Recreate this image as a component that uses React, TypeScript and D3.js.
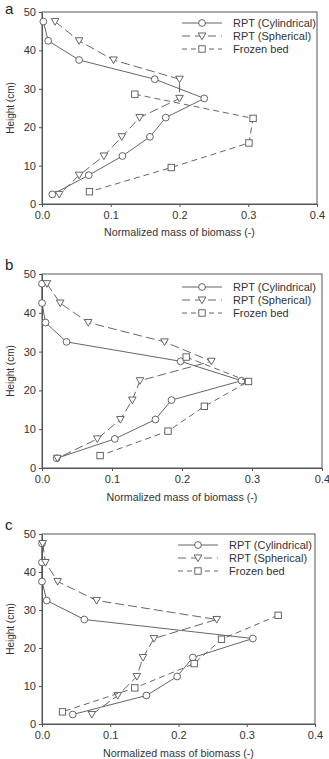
import * as d3 from "d3";
import { useEffect, useRef } from "react";

// heights (cm)
const heightsRPT = [47.5, 42.5, 37.5, 32.5, 27.5, 22.5, 17.5, 12.5, 7.5, 2.5];
const heightsFrozen = [28.6, 22.3, 15.9, 9.5, 3.2];

// panel a
const cylA = [0.002, 0.009, 0.054, 0.164, 0.236, 0.18, 0.157, 0.117, 0.068, 0.015];
const sphA = [0.019, 0.054, 0.104, 0.2, 0.2, 0.142, 0.116, 0.09, 0.054, 0.025];
const frzA = [0.135, 0.307, 0.301, 0.188, 0.069];

// panel b
const cylB = [0.0, 0.0, 0.005, 0.035, 0.198, 0.285, 0.185, 0.162, 0.104, 0.021];
const sphB = [0.007, 0.026, 0.066, 0.175, 0.242, 0.14, 0.129, 0.112, 0.079, 0.022];
const frzB = [0.206, 0.295, 0.232, 0.18, 0.083];

// panel c
const cylC = [0.0, 0.0, 0.0, 0.007, 0.062, 0.309, 0.221, 0.198, 0.153, 0.045];
const sphC = [0.001, 0.005, 0.023, 0.08, 0.256, 0.164, 0.148, 0.139, 0.111, 0.073];
const frzC = [0.346, 0.263, 0.223, 0.136, 0.03];

const xTicks = [0, 0.1, 0.2, 0.3, 0.4];
const yTicks = [0, 10, 20, 30, 40, 50];
const seriesNames = ["RPT (Cylindrical)", "RPT (Spherical)", "Frozen bed"];
const panelLetters = ["a", "b", "c"];

const GREY = "#555";
const TEXT = "#333";
const FONT = "Liberation Sans, Arial, sans-serif";

const panels = [
  { letter: panelLetters[0], cyl: cylA, sph: sphA, frz: frzA, top: 12, bottom: 204, right: 317, xLab: 232, legY: 23, legX: 182, letY: 14 },
  { letter: panelLetters[1], cyl: cylB, sph: sphB, frz: frzB, top: 274, bottom: 468, right: 322, xLab: 497, legY: 287, legX: 182, letY: 270 },
  { letter: panelLetters[2], cyl: cylC, sph: sphC, frz: frzC, top: 534, bottom: 724, right: 315, xLab: 753, legY: 545, legX: 178, letY: 530 },
];

const App = () => {
  const ref = useRef(null);

  useEffect(() => {
    const svg = d3.select(ref.current);
    svg.selectAll("*").remove();

    const left = 42;

    const drawMarker = (g, type, x, y) => {
      if (type === "circle") {
        g.append("circle").attr("cx", x).attr("cy", y).attr("r", 3.4)
          .attr("fill", "white").attr("stroke", GREY).attr("stroke-width", 0.9);
      } else if (type === "tri") {
        const s = 3.8;
        g.append("path")
          .attr("d", `M${x - s},${y - s * 0.8}L${x + s},${y - s * 0.8}L${x},${y + s * 0.95}Z`)
          .attr("fill", "white").attr("stroke", GREY).attr("stroke-width", 0.9);
      } else {
        g.append("rect").attr("x", x - 3.2).attr("y", y - 3.2).attr("width", 6.4).attr("height", 6.4)
          .attr("fill", "white").attr("stroke", GREY).attr("stroke-width", 0.9);
      }
    };

    panels.forEach(p => {
      const x = d3.scaleLinear().domain([0, 0.4]).range([left, p.right]);
      const y = d3.scaleLinear().domain([0, 50]).range([p.bottom, p.top]);
      const g = svg.append("g");

      // frame
      g.append("rect").attr("x", left).attr("y", p.top)
        .attr("width", p.right - left).attr("height", p.bottom - p.top)
        .attr("fill", "none").attr("stroke", GREY).attr("stroke-width", 1);

      // axes
      const xa = g.append("g").attr("transform", `translate(0,${p.bottom})`)
        .call(d3.axisBottom(x).tickValues(xTicks).tickFormat(d3.format(".1f")).tickSize(3).tickSizeOuter(0));
      const ya = g.append("g").attr("transform", `translate(${left},0)`)
        .call(d3.axisLeft(y).tickValues(yTicks).tickSize(3).tickSizeOuter(0));
      [xa, ya].forEach(a => {
        a.select(".domain").attr("stroke", GREY);
        a.selectAll("line").attr("stroke", GREY);
        a.selectAll("text").attr("fill", TEXT).style("font-family", FONT).style("font-size", "11px");
      });
      xa.selectAll("text").attr("dy", "0.85em");

      g.append("text").attr("x", (left + p.right) / 2).attr("y", p.xLab).attr("dy", "0.35em")
        .attr("text-anchor", "middle").attr("fill", TEXT)
        .style("font-family", FONT).style("font-size", "10.7px")
        .text("Normalized mass of biomass (-)");
      g.append("text")
        .attr("transform", `translate(14,${(p.top + p.bottom) / 2}) rotate(-90)`)
        .attr("text-anchor", "middle").attr("fill", TEXT)
        .style("font-family", FONT).style("font-size", "10px")
        .text("Height (cm)");
      g.append("text").attr("x", 5).attr("y", p.letY)
        .attr("fill", "#222").style("font-family", FONT).style("font-size", "15px")
        .text(p.letter);

      const line = d3.line().x(d => x(d[0])).y(d => y(d[1]));
      const sets = [
        { vals: p.cyl, hs: heightsRPT, dash: null, m: "circle" },
        { vals: p.sph, hs: heightsRPT, dash: "9,4", m: "tri" },
        { vals: p.frz, hs: heightsFrozen, dash: "6,4", m: "square" },
      ];
      sets.forEach(s => {
        const pts = s.vals.map((v, i) => [v, s.hs[i]]);
        g.append("path").attr("d", line(pts)).attr("fill", "none")
          .attr("stroke", GREY).attr("stroke-width", 0.9)
          .attr("stroke-dasharray", s.dash);
        pts.forEach(d => drawMarker(g, s.m, x(d[0]), y(d[1])));
      });

      // legend
      sets.forEach((s, i) => {
        const ly = p.legY + i * 13;
        g.append("line").attr("x1", p.legX).attr("x2", p.legX + 40)
          .attr("y1", ly).attr("y2", ly).attr("stroke", GREY).attr("stroke-width", 0.9)
          .attr("stroke-dasharray", s.dash ? (i === 1 ? "8,5" : "5,4") : null);
        drawMarker(g, s.m, p.legX + 20, ly);
        g.append("text").attr("x", p.legX + 51).attr("y", ly).attr("dy", "0.35em")
          .attr("fill", TEXT).style("font-family", FONT).style("font-size", "11px")
          .text(seriesNames[i]);
      });
    });
  }, []);

  return (
    <svg ref={ref} width={329} height={759}
      style={{ position: "absolute", left: 0, top: 0, background: "white" }}></svg>
  );
};

export default App;
